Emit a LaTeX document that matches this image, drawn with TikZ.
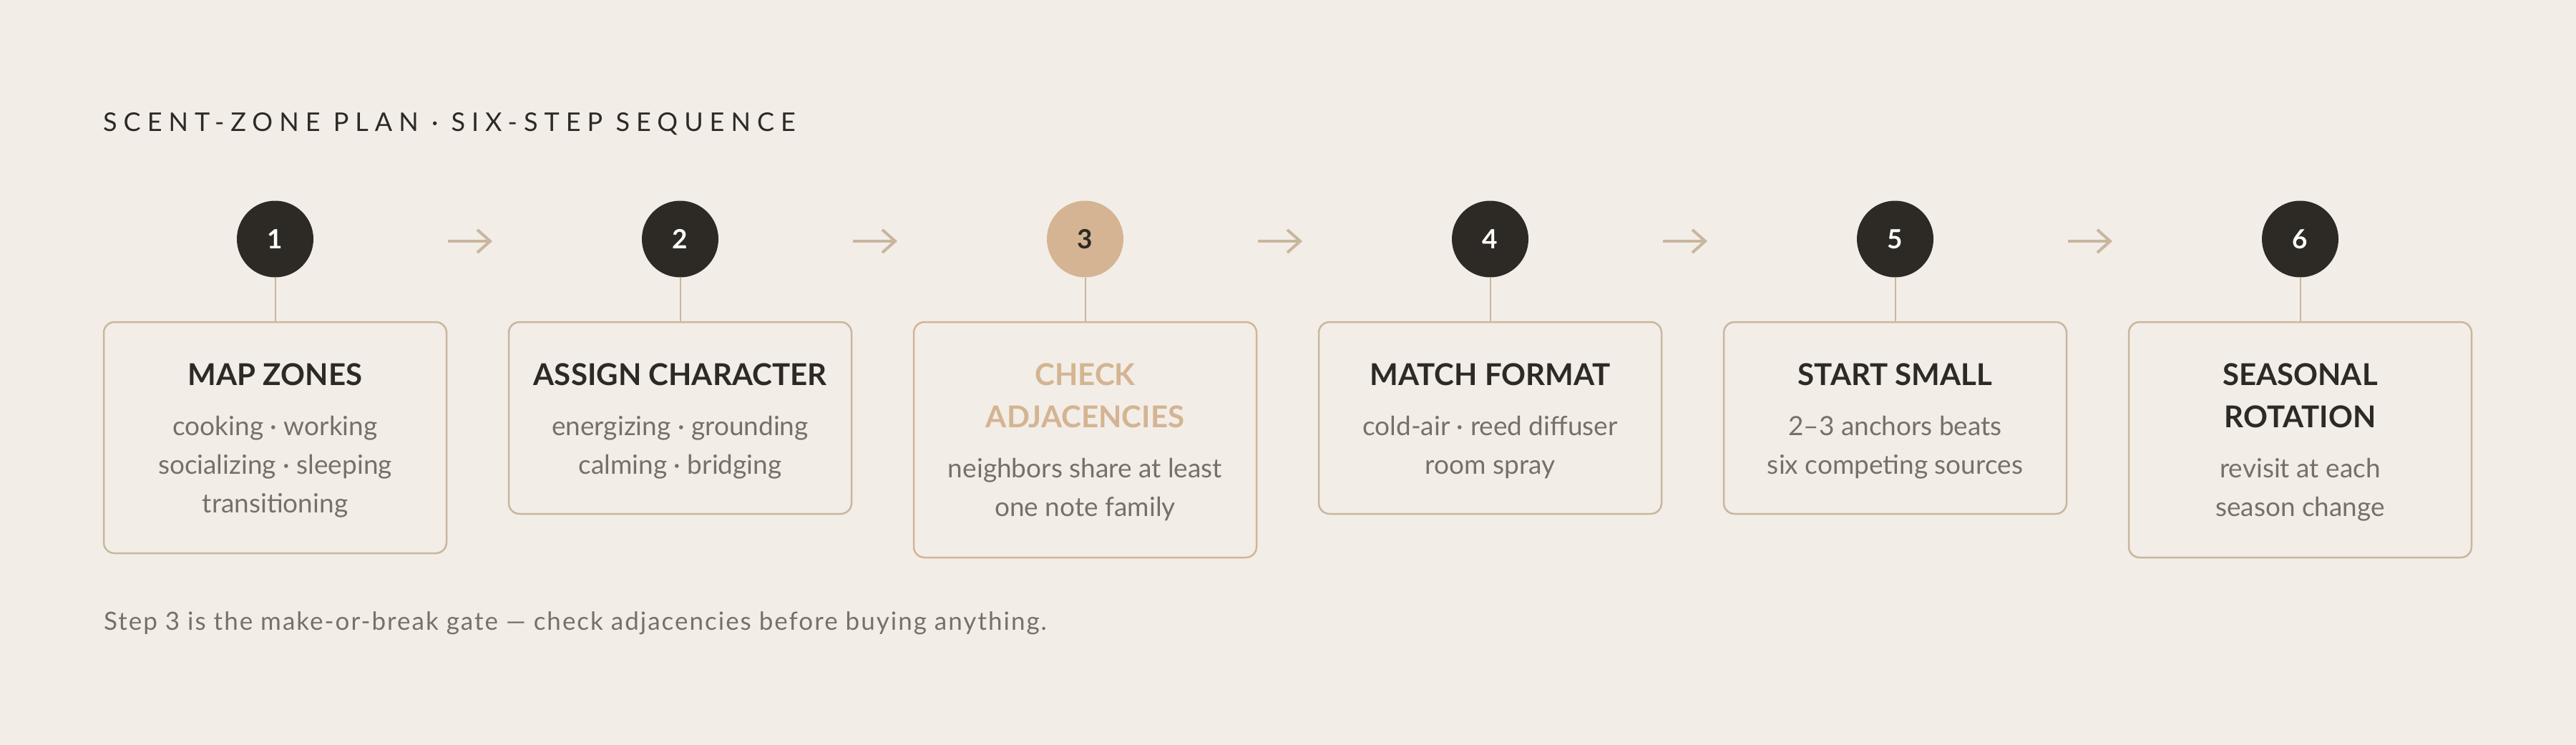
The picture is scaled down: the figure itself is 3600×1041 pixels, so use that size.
\documentclass[tikz,border=0pt]{standalone}
\usepackage{fontspec}
\setmainfont{Lato}
\usetikzlibrary{arrows.meta}
\definecolor{bg}{HTML}{F2EDE7}
\definecolor{ink}{HTML}{2D2A25}
\definecolor{mute}{HTML}{77706A}
\definecolor{tanc}{HTML}{D4B492}
\definecolor{rulec}{HTML}{C9B69E}
\begin{document}
\begin{tikzpicture}[x=1pt,y=-1pt,
  stepbox/.style={draw=rulec, line width=2.5pt, rounded corners=15pt, minimum width=479pt, inner sep=0pt, fill=bg},
  numdot/.style={circle, fill=ink, minimum size=107pt, inner sep=0pt, text=white, font=\fontsize{37}{37}\selectfont\bfseries},
  ttl/.style={font=\fontsize{42}{42}\selectfont\bfseries, text=ink, anchor=base, inner sep=0pt},
  txt/.style={font=\fontsize{37}{37}\selectfont, text=mute, anchor=base, inner sep=0pt},
  stem/.style={draw=rulec, line width=2pt},
  flow/.style={draw=rulec, line width=4pt, -{Straight Barb[length=18pt,width=32pt]}}
]
\fill[bg] (0,0) rectangle (3600,1041);
\useasboundingbox (0,0) rectangle (3600,1041);

\node[anchor=base west, inner sep=0pt, text=ink, font=\fontsize{36}{36}\selectfont\addfontfeature{LetterSpace=25}] (head) at (144,183) {SCENT-ZONE PLAN · SIX-STEP SEQUENCE};

% boxes
\node[stepbox, minimum height=323pt] (b1) at (384.5,611.5) {};
\node[stepbox, minimum height=268pt] (b2) at (950.5,584) {};
\node[stepbox, draw=tanc, minimum height=329pt] (b3) at (1516.5,614.5) {};
\node[stepbox, minimum height=268pt] (b4) at (2082.5,584) {};
\node[stepbox, minimum height=268pt] (b5) at (2648.5,584) {};
\node[stepbox, minimum height=329pt] (b6) at (3214.5,614.5) {};

% circles
\node[numdot] (c1) at (384.5,334) {1};
\node[numdot] (c2) at (950.5,334) {2};
\node[numdot, fill=tanc, text=ink] (c3) at (1516.5,334) {3};
\node[numdot] (c4) at (2082.5,334) {4};
\node[numdot] (c5) at (2648.5,334) {5};
\node[numdot] (c6) at (3214.5,334) {6};

\foreach \i in {1,...,6} {\draw[stem] (c\i) -- (b\i);}

% arrows
\coordinate (a1s) at (626,337); \coordinate (a1e) at (688,337);
\coordinate (a2s) at (1192,337); \coordinate (a2e) at (1254,337);
\coordinate (a3s) at (1758,337); \coordinate (a3e) at (1820,337);
\coordinate (a4s) at (2324,337); \coordinate (a4e) at (2386,337);
\coordinate (a5s) at (2890,337); \coordinate (a5e) at (2952,337);
\foreach \i in {1,...,5} {\draw[flow] (a\i s) -- (a\i e);}

% texts
\node[ttl] (t1) at (384.5,538) {MAP ZONES};
\node[txt] (t1a) at (384.5,608) {cooking · working};
\node[txt] (t1b) at (384.5,662) {socializing · sleeping};
\node[txt] (t1c) at (384.5,716) {transitioning};

\node[ttl] (t2) at (950.5,538) {ASSIGN CHARACTER};
\node[txt] (t2a) at (950.5,608) {energizing · grounding};
\node[txt] (t2b) at (950.5,662) {calming · bridging};

\node[ttl, text=tanc] (t3) at (1516.5,538) {CHECK};
\node[ttl, text=tanc] (t3x) at (1516.5,597) {ADJACENCIES};
\node[txt] (t3a) at (1516.5,667) {neighbors share at least};
\node[txt] (t3b) at (1516.5,721) {one note family};

\node[ttl] (t4) at (2082.5,538) {MATCH FORMAT};
\node[txt] (t4a) at (2082.5,608) {cold-air · reed diffuser};
\node[txt] (t4b) at (2082.5,662) {room spray};

\node[ttl] (t5) at (2648.5,538) {START SMALL};
\node[txt] (t5a) at (2648.5,608) {2–3 anchors beats};
\node[txt] (t5b) at (2648.5,662) {six competing sources};

\node[ttl] (t6) at (3214.5,538) {SEASONAL};
\node[ttl] (t6x) at (3214.5,597) {ROTATION};
\node[txt] (t6a) at (3214.5,667) {revisit at each};
\node[txt] (t6b) at (3214.5,721) {season change};

\node[anchor=base west, inner sep=0pt, text=mute, font=\fontsize{35}{35}\selectfont\addfontfeature{LetterSpace=5.7}] (foot) at (145,880) {Step 3 is the make-or-break gate — check adjacencies before buying anything.};
\end{tikzpicture}
\end{document}
